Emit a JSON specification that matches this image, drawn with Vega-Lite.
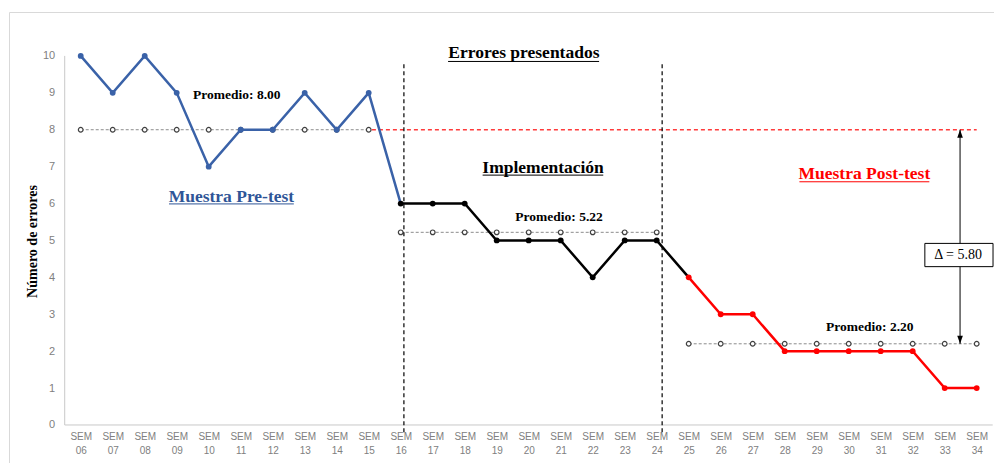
{
  "$schema": "https://vega.github.io/schema/vega-lite/v6.json",
  "width": 990,
  "height": 458,
  "autosize": {"type": "none"},
  "padding": {"left": 9, "top": 12, "right": 0, "bottom": 0},
  "background": "white",
  "config": {
    "view": {"stroke": "#d9d9d9", "strokeWidth": 1},
    "text": {"font": "Liberation Serif"}
  },
  "datasets": {
    "semanas": [
      {"sem": 6, "errores": 10, "fase": "Pre-test"},
      {"sem": 7, "errores": 9, "fase": "Pre-test"},
      {"sem": 8, "errores": 10, "fase": "Pre-test"},
      {"sem": 9, "errores": 9, "fase": "Pre-test"},
      {"sem": 10, "errores": 7, "fase": "Pre-test"},
      {"sem": 11, "errores": 8, "fase": "Pre-test"},
      {"sem": 12, "errores": 8, "fase": "Pre-test"},
      {"sem": 13, "errores": 9, "fase": "Pre-test"},
      {"sem": 14, "errores": 8, "fase": "Pre-test"},
      {"sem": 15, "errores": 9, "fase": "Pre-test"},
      {"sem": 16, "errores": 6, "fase": "Implementación"},
      {"sem": 17, "errores": 6, "fase": "Implementación"},
      {"sem": 18, "errores": 6, "fase": "Implementación"},
      {"sem": 19, "errores": 5, "fase": "Implementación"},
      {"sem": 20, "errores": 5, "fase": "Implementación"},
      {"sem": 21, "errores": 5, "fase": "Implementación"},
      {"sem": 22, "errores": 4, "fase": "Implementación"},
      {"sem": 23, "errores": 5, "fase": "Implementación"},
      {"sem": 24, "errores": 5, "fase": "Implementación"},
      {"sem": 25, "errores": 4, "fase": "Post-test"},
      {"sem": 26, "errores": 3, "fase": "Post-test"},
      {"sem": 27, "errores": 3, "fase": "Post-test"},
      {"sem": 28, "errores": 2, "fase": "Post-test"},
      {"sem": 29, "errores": 2, "fase": "Post-test"},
      {"sem": 30, "errores": 2, "fase": "Post-test"},
      {"sem": 31, "errores": 2, "fase": "Post-test"},
      {"sem": 32, "errores": 2, "fase": "Post-test"},
      {"sem": 33, "errores": 1, "fase": "Post-test"},
      {"sem": 34, "errores": 1, "fase": "Post-test"}
    ],
    "promedios": [
      {"fase": "Pre-test", "promedio": 8.0},
      {"fase": "Implementación", "promedio": 5.22},
      {"fase": "Post-test", "promedio": 2.2}
    ],
    "titulos": [
      {"texto": "Muestra Pre-test", "fase": "Pre-test", "sem": 10.71, "nivel": 6.18, "desde": 8.76, "hasta": 12.66, "linea": 5.99},
      {"texto": "Implementación", "fase": "Implementación", "sem": 20.45, "nivel": 6.96, "desde": 18.56, "hasta": 22.33, "linea": 6.77},
      {"texto": "Muestra Post-test", "fase": "Post-test", "sem": 30.49, "nivel": 6.79, "desde": 28.46, "hasta": 32.52, "linea": 6.59},
      {"texto": "Errores presentados", "fase": "Implementación", "sem": 19.85, "nivel": 10.07, "desde": 17.48, "hasta": 22.2, "linea": 9.85}
    ],
    "etiquetas": [
      {"texto": "Promedio: 8.00", "sem": 10.88, "nivel": 8.94},
      {"texto": "Promedio: 5.22", "sem": 20.95, "nivel": 5.63},
      {"texto": "Promedio: 2.20", "sem": 30.66, "nivel": 2.66}
    ]
  },
  "data": {"name": "semanas"},
  "layer": [
    {
      "data": {"values": [{"x1": 5.5, "x2": 5.5, "y1": 0, "y2": 10}, {"x1": 5.5, "x2": 34.5, "y1": 0, "y2": 0}]},
      "mark": {"type": "rule", "color": "#c8c8c8", "strokeWidth": 1},
      "encoding": {
        "x": {
          "field": "x1", "type": "quantitative",
          "scale": {"domain": [3.759, 34.697], "nice": false, "zero": false},
          "axis": {
            "orient": "bottom", "offset": -45, "tickCount": 60,
            "values": [6,7,8,9,10,11,12,13,14,15,16,17,18,19,20,21,22,23,24,25,26,27,28,29,30,31,32,33,34],
            "labelExpr": "['SEM', (datum.value < 10 ? '0' : '') + datum.value]",
            "domain": false, "ticks": false, "grid": false, "labelOverlap": false, "labelBound": false, "labelFlush": false,
            "labelFont": "Liberation Sans", "labelFontSize": 10, "labelColor": "#808080",
            "labelPadding": 6, "labelLineHeight": 14, "title": null
          }
        },
        "x2": {"field": "x2"},
        "y": {
          "field": "y1", "type": "quantitative",
          "scale": {"domain": [-1.22, 11.19], "nice": false, "zero": false},
          "axis": {
            "orient": "left", "offset": -55.7, "values": [0,1,2,3,4,5,6,7,8,9,10], "format": "d",
            "domain": false, "ticks": false, "grid": false, "labelOverlap": false,
            "labelFont": "Liberation Sans", "labelFontSize": 11, "labelColor": "#808080",
            "labelPadding": 10,
            "title": "Número de errores", "titleFont": "Liberation Serif", "titleFontWeight": "bold",
            "titleFontSize": 14, "titleColor": "#000000", "titlePadding": 3
          }
        },
        "y2": {"field": "y2"}
      }
    },
    {
      "transform": [{"lookup": "fase", "from": {"data": {"name": "promedios"}, "key": "fase", "fields": ["promedio"]}}],
      "mark": {"type": "line", "color": "#8c8c8c", "strokeWidth": 1, "strokeDash": [3, 2]},
      "encoding": {
        "x": {"field": "sem", "type": "quantitative"},
        "y": {"field": "promedio", "type": "quantitative"},
        "detail": {"field": "fase"}
      }
    },
    {
      "transform": [{"lookup": "fase", "from": {"data": {"name": "promedios"}, "key": "fase", "fields": ["promedio"]}}],
      "mark": {"type": "point", "shape": "circle", "filled": true, "fill": "white", "stroke": "#404040", "strokeWidth": 1.2, "size": 22, "opacity": 1},
      "encoding": {
        "x": {"field": "sem", "type": "quantitative"},
        "y": {"field": "promedio", "type": "quantitative"}
      }
    },
    {
      "data": {"values": [{"desde": 15.1, "hasta": 34, "nivel": 8.0}]},
      "mark": {"type": "rule", "color": "#ff3b3b", "strokeWidth": 1.3, "strokeDash": [4, 3]},
      "encoding": {
        "x": {"field": "desde", "type": "quantitative"},
        "x2": {"field": "hasta"},
        "y": {"field": "nivel", "type": "quantitative"}
      }
    },
    {
      "data": {"values": [{"sem": 16.1}, {"sem": 24.17}]},
      "mark": {"type": "rule", "color": "#000000", "strokeWidth": 1.2, "strokeDash": [4, 3]},
      "encoding": {
        "x": {"field": "sem", "type": "quantitative"},
        "y": {"datum": -0.2, "type": "quantitative"},
        "y2": {"datum": 9.85}
      }
    },
    {
      "transform": [{"filter": "datum.sem <= 16"}],
      "mark": {"type": "line", "color": "#3a62a8", "strokeWidth": 2.5},
      "encoding": {
        "x": {"field": "sem", "type": "quantitative"},
        "y": {"field": "errores", "type": "quantitative"}
      }
    },
    {
      "transform": [{"filter": "datum.sem >= 16 && datum.sem <= 25"}],
      "mark": {"type": "line", "color": "#000000", "strokeWidth": 2.5},
      "encoding": {
        "x": {"field": "sem", "type": "quantitative"},
        "y": {"field": "errores", "type": "quantitative"}
      }
    },
    {
      "transform": [{"filter": "datum.sem >= 25"}],
      "mark": {"type": "line", "color": "#ff0000", "strokeWidth": 2.5},
      "encoding": {
        "x": {"field": "sem", "type": "quantitative"},
        "y": {"field": "errores", "type": "quantitative"}
      }
    },
    {
      "mark": {"type": "point", "shape": "circle", "filled": true, "size": 34, "opacity": 1},
      "encoding": {
        "x": {"field": "sem", "type": "quantitative"},
        "y": {"field": "errores", "type": "quantitative"},
        "color": {
          "field": "fase", "type": "nominal",
          "scale": {"domain": ["Pre-test", "Implementación", "Post-test"], "range": ["#3a62a8", "#000000", "#ff0000"]},
          "legend": null
        }
      }
    },
    {
      "data": {"values": [{"sem": 33.48, "desde": 8.0, "hasta": 2.2}]},
      "layer": [
        {
          "mark": {"type": "rule", "color": "#000000", "strokeWidth": 1},
          "encoding": {
            "x": {"field": "sem", "type": "quantitative"},
            "y": {"field": "desde", "type": "quantitative"},
            "y2": {"field": "hasta"}
          }
        },
        {
          "mark": {"type": "point", "shape": "M0,0L-0.7,2L0.7,2Z", "filled": true, "color": "#000000", "size": 64, "opacity": 1},
          "encoding": {
            "x": {"field": "sem", "type": "quantitative"},
            "y": {"field": "desde", "type": "quantitative"}
          }
        },
        {
          "mark": {"type": "point", "shape": "M0,0L-0.7,-2L0.7,-2Z", "filled": true, "color": "#000000", "size": 64, "opacity": 1},
          "encoding": {
            "x": {"field": "sem", "type": "quantitative"},
            "y": {"field": "hasta", "type": "quantitative"}
          }
        }
      ]
    },
    {
      "data": {"values": [{"texto": "Δ = 5.80", "desde": 32.38, "hasta": 34.51, "abajo": 4.29, "arriba": 4.92, "sem": 33.42, "nivel": 4.6}]},
      "layer": [
        {
          "mark": {"type": "rect", "fill": "white", "stroke": "#000000", "strokeWidth": 1},
          "encoding": {
            "x": {"field": "desde", "type": "quantitative"},
            "x2": {"field": "hasta"},
            "y": {"field": "abajo", "type": "quantitative"},
            "y2": {"field": "arriba"}
          }
        },
        {
          "mark": {"type": "text", "fontSize": 14, "color": "#000000", "align": "center", "baseline": "middle"},
          "encoding": {
            "x": {"field": "sem", "type": "quantitative"},
            "y": {"field": "nivel", "type": "quantitative"},
            "text": {"field": "texto"}
          }
        }
      ]
    },
    {
      "data": {"name": "titulos"},
      "layer": [
        {
          "mark": {"type": "text", "fontSize": 17.5, "fontWeight": "bold", "align": "center", "baseline": "middle"},
          "encoding": {
            "x": {"field": "sem", "type": "quantitative"},
            "y": {"field": "nivel", "type": "quantitative"},
            "text": {"field": "texto"},
            "color": {
              "field": "fase", "type": "nominal",
              "scale": {"domain": ["Pre-test", "Implementación", "Post-test"], "range": ["#2f5597", "#000000", "#ff0000"]},
              "legend": null
            }
          }
        },
        {
          "mark": {"type": "rule", "strokeWidth": 1},
          "encoding": {
            "x": {"field": "desde", "type": "quantitative"},
            "x2": {"field": "hasta"},
            "y": {"field": "linea", "type": "quantitative"},
            "color": {"field": "fase", "type": "nominal", "legend": null}
          }
        }
      ],
      "resolve": {"scale": {"color": "shared"}}
    },
    {
      "data": {"name": "etiquetas"},
      "mark": {"type": "text", "fontSize": 13.5, "fontWeight": "bold", "color": "#000000", "align": "center", "baseline": "middle"},
      "encoding": {
        "x": {"field": "sem", "type": "quantitative"},
        "y": {"field": "nivel", "type": "quantitative"},
        "text": {"field": "texto"}
      }
    }
  ],
  "resolve": {"scale": {"color": "independent"}}
}
